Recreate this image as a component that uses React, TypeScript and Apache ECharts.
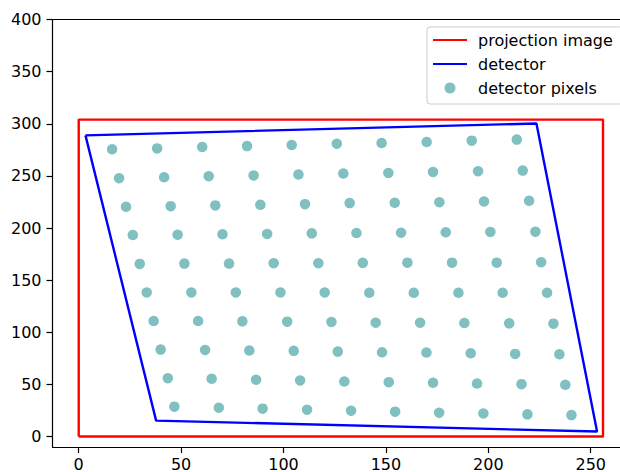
import React, { useEffect, useRef } from "react";
import * as echarts from "echarts";

// Axis tick labels
const xTicks = [0, 50, 100, 150, 200, 250];
const yTicks = [0, 50, 100, 150, 200, 250, 300, 350, 400];

// Projection image outline (closed)
const projectionImage = [
  [0, 0],
  [256, 0],
  [256, 304],
  [0, 304],
  [0, 0],
];

// Detector outline (closed)
const detector = [
  [3.3, 288.9],
  [223.5, 300.3],
  [253.1, 4.8],
  [37.8, 15.3],
  [3.3, 288.9],
];

// Detector pixel centres, row by row (top row first)
const pixelRow1 = [[16.3, 275.5], [38.3, 276.4], [60.3, 277.7], [82.2, 278.6], [104.0, 279.6], [126.0, 280.9], [147.9, 281.5], [169.9, 282.5], [191.9, 283.8], [213.9, 284.8]];
const pixelRow2 = [[19.7, 247.8], [41.7, 248.7], [63.5, 249.7], [85.4, 250.4], [107.3, 251.3], [129.2, 252.3], [151.2, 252.8], [173.0, 253.8], [195.0, 254.5], [216.8, 255.1]];
const pixelRow3 = [[23.1, 220.4], [44.9, 221.0], [66.7, 221.7], [88.7, 222.3], [110.5, 222.9], [132.3, 223.9], [154.3, 224.2], [176.1, 224.8], [197.9, 225.5], [219.9, 226.1]];
const pixelRow4 = [[26.4, 193.3], [48.3, 193.6], [70.2, 194.0], [92.0, 194.3], [113.8, 194.9], [135.6, 195.2], [157.4, 195.5], [179.2, 195.9], [201.0, 196.2], [223.0, 196.5]];
const pixelRow5 = [[29.8, 165.6], [51.6, 165.9], [73.4, 165.9], [95.2, 166.3], [117.0, 166.3], [138.7, 166.6], [160.5, 166.8], [182.3, 166.8], [204.1, 166.8], [225.8, 167.2]];
const pixelRow6 = [[33.2, 138.2], [55.0, 138.2], [76.7, 138.2], [98.5, 138.2], [120.1, 138.2], [141.9, 137.9], [163.6, 137.9], [185.4, 137.9], [207.0, 137.9], [228.7, 137.9]];
const pixelRow7 = [[36.6, 110.8], [58.3, 110.8], [79.9, 110.5], [101.8, 110.2], [123.4, 109.9], [145.0, 109.2], [166.7, 109.2], [188.3, 108.9], [210.2, 108.6], [231.8, 108.3]];
const pixelRow8 = [[40.0, 83.4], [61.7, 83.1], [83.3, 82.5], [105.0, 82.2], [126.5, 81.5], [148.1, 80.8], [169.8, 80.6], [191.4, 79.9], [213.1, 79.3], [234.7, 78.9]];
const pixelRow9 = [[43.5, 56.0], [64.9, 55.4], [86.6, 54.5], [108.1, 53.8], [129.7, 52.8], [151.4, 52.2], [173.0, 51.6], [194.5, 50.9], [216.2, 50.3], [237.6, 49.7]];
const pixelRow10 = [[46.7, 28.7], [68.4, 27.7], [89.8, 26.8], [111.5, 25.8], [133.0, 24.8], [154.5, 23.9], [176.0, 22.9], [197.6, 22.2], [219.1, 21.3], [240.6, 20.6]];

const detectorPixels = [
  ...pixelRow1, ...pixelRow2, ...pixelRow3, ...pixelRow4, ...pixelRow5,
  ...pixelRow6, ...pixelRow7, ...pixelRow8, ...pixelRow9, ...pixelRow10,
];

const FONT = "DejaVu Sans";
const SPINE = { color: "#000", width: 1.2 };

export default function App() {
  const ref = useRef<HTMLDivElement>(null);
  useEffect(() => {
    const chart = echarts.init(ref.current as HTMLDivElement, null, { renderer: "svg" });
    chart.setOption({
      animation: false,
      textStyle: { fontFamily: FONT },
      grid: {
        left: 52.5,
        top: 19.5,
        right: 0,
        bottom: 23,
        show: false,
      },
      xAxis: [
        {
          type: "value",
          min: -12.8,
          max: 264.3,
          position: "bottom",
          splitLine: { show: false },
          axisLine: { show: true, onZero: false, lineStyle: SPINE },
          axisTick: { show: true, length: 6, customValues: xTicks, lineStyle: SPINE },
          axisLabel: { customValues: xTicks, color: "#000", fontSize: 16, margin: 9, fontFamily: FONT },
        },
        {
          type: "value",
          min: -12.8,
          max: 264.3,
          position: "top",
          splitLine: { show: false },
          axisLine: { show: true, onZero: false, lineStyle: SPINE },
          axisTick: { show: false },
          axisLabel: { show: false },
        },
      ],
      yAxis: {
        type: "value",
        min: -10,
        max: 400,
        splitLine: { show: false },
        axisLine: { show: true, onZero: false, lineStyle: SPINE },
        axisTick: { show: true, length: 6, customValues: yTicks, lineStyle: SPINE },
        axisLabel: { customValues: yTicks, color: "#000", fontSize: 16, margin: 11, fontFamily: FONT },
      },
      legend: {
        orient: "vertical",
        left: 427,
        top: 27,
        padding: [5, 10, 8, 5],
        itemWidth: 34,
        itemHeight: 11,
        itemGap: 8,
        backgroundColor: "rgba(255,255,255,0.8)",
        borderColor: "#cccccc",
        borderWidth: 1,
        borderRadius: 3,
        textStyle: { fontSize: 16, color: "#000", fontFamily: FONT, padding: [0, 0, 0, 6] },
        data: [
          { name: "projection image", itemStyle: { opacity: 0 }, lineStyle: { opacity: 1 } },
          { name: "detector", itemStyle: { opacity: 0 }, lineStyle: { opacity: 1 } },
          { name: "detector pixels", icon: "circle" },
        ],
      },
      series: [
        {
          type: "line",
          name: "projection image",
          data: projectionImage,
          symbol: "none",
          showSymbol: false,
          lineStyle: { color: "#ff0000", width: 2.4 },
          itemStyle: { color: "#ff0000" },
        },
        {
          type: "line",
          name: "detector",
          data: detector,
          symbol: "none",
          showSymbol: false,
          lineStyle: { color: "#0000ff", width: 2.4 },
          itemStyle: { color: "#0000ff" },
        },
        {
          type: "scatter",
          name: "detector pixels",
          data: detectorPixels,
          symbolSize: 10.5,
          itemStyle: { color: "#80c0c0", opacity: 1 },
        },
      ],
    });
    return () => chart.dispose();
  }, []);
  return (
    <div
      ref={ref}
      style={{ position: "absolute", left: 0, top: 0, width: 620, height: 472 }}
    />
  );
}
